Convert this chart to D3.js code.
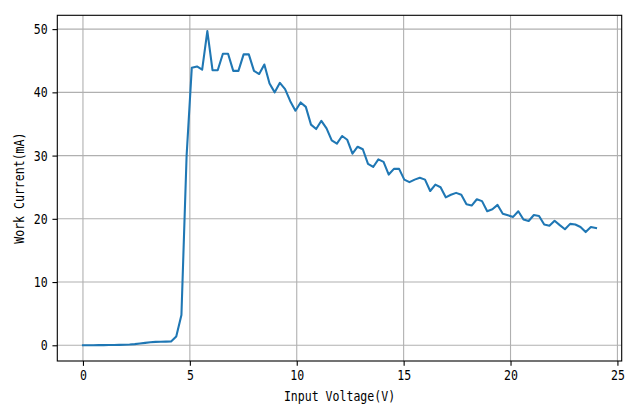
<!DOCTYPE html>
<html>
<head>
<meta charset="utf-8">
<script src="https://cdn.jsdelivr.net/npm/d3@7"></script>
<style>
  html, body { margin: 0; padding: 0; background: #fff; }
  svg { display: block; }
</style>
</head>
<body>
<svg id="chart" width="640" height="409"></svg>
<script>
// ---- data ----
const voltage = [
  0.0000, 0.2424, 0.4848, 0.7273, 0.9697, 1.2121, 1.4545, 1.6970, 1.9394, 2.1818,
  2.4242, 2.6667, 2.9091, 3.1515, 3.3939, 3.6364, 3.8788, 4.1212, 4.3636, 4.6061,
  4.8485, 5.0909, 5.3333, 5.5758, 5.8182, 6.0606, 6.3030, 6.5455, 6.7879, 7.0303,
  7.2727, 7.5152, 7.7576, 8.0000, 8.2424, 8.4848, 8.7273, 8.9697, 9.2121, 9.4545,
  9.6970, 9.9394, 10.1818, 10.4242, 10.6667, 10.9091, 11.1515, 11.3939, 11.6364, 11.8788,
  12.1212, 12.3636, 12.6061, 12.8485, 13.0909, 13.3333, 13.5758, 13.8182, 14.0606, 14.3030,
  14.5455, 14.7879, 15.0303, 15.2727, 15.5152, 15.7576, 16.0000, 16.2424, 16.4848, 16.7273,
  16.9697, 17.2121, 17.4545, 17.6970, 17.9394, 18.1818, 18.4242, 18.6667, 18.9091, 19.1515,
  19.3939, 19.6364, 19.8788, 20.1212, 20.3636, 20.6061, 20.8485, 21.0909, 21.3333, 21.5758,
  21.8182, 22.0606, 22.3030, 22.5455, 22.7879, 23.0303, 23.2727, 23.5152, 23.7576, 24.0000
];
const current = [
  0.00, 0.00, 0.01, 0.02, 0.03, 0.04, 0.05, 0.06, 0.08, 0.12,
  0.18, 0.28, 0.38, 0.48, 0.54, 0.57, 0.58, 0.60, 1.40, 4.80,
  30.0, 43.9, 44.1, 43.6, 49.7, 43.5, 43.5, 46.1, 46.1, 43.4,
  43.4, 46.0, 46.0, 43.4, 42.9, 44.4, 41.4, 40.0, 41.5, 40.5,
  38.6, 37.1, 38.4, 37.7, 34.9, 34.2, 35.5, 34.3, 32.4, 31.9,
  33.1, 32.5, 30.3, 31.4, 31.0, 28.7, 28.2, 29.4, 29.0, 27.0,
  27.9, 27.9, 26.2, 25.8, 26.2, 26.5, 26.2, 24.4, 25.4, 25.0,
  23.4, 23.8, 24.1, 23.8, 22.3, 22.1, 23.1, 22.8, 21.2, 21.5,
  22.2, 20.8, 20.55, 20.3, 21.2, 19.9, 19.65, 20.6, 20.45, 19.1,
  18.9, 19.7, 19.0, 18.35, 19.2, 19.1, 18.7, 17.9, 18.7, 18.55
];
const xTicks = [0, 5, 10, 15, 20, 25];
const yTicks = [0, 10, 20, 30, 40, 50];
const xLabel = "Input Voltage(V)";
const yLabel = "Work Current(mA)";

// ---- layout ----
const svg = d3.select("#chart");
const L = 57.3, R = 621.7, T = 15.3, B = 361;
const FONT = "'DejaVu Sans Mono', 'Liberation Mono', monospace";
const FS = 13.9, CW = 6.95; // font size and per-char advance (SimHei-like half width)

const x = d3.scaleLinear().domain([-1.2, 25.2]).range([L, R]);
const y = d3.scaleLinear().domain([-2.485, 52.185]).range([B, T]);

// grid
const g = svg.append("g");
g.selectAll("line.gx").data(xTicks).join("line")
  .attr("x1", d => x(d)).attr("x2", d => x(d))
  .attr("y1", T).attr("y2", B)
  .attr("stroke", "#b0b0b0").attr("stroke-width", 1.1);
g.selectAll("line.gy").data(yTicks).join("line")
  .attr("class", "gy")
  .attr("x1", L).attr("x2", R)
  .attr("y1", d => y(d)).attr("y2", d => y(d))
  .attr("stroke", "#b0b0b0").attr("stroke-width", 1.1);

// line
const line = d3.line().x((d, i) => x(voltage[i])).y(d => y(d));
svg.append("path").datum(current)
  .attr("d", line)
  .attr("fill", "none")
  .attr("stroke", "#1f77b4")
  .attr("stroke-width", 2.08)
  .attr("stroke-linejoin", "round")
  .attr("stroke-linecap", "square");

// axes
function styleAxis(sel) {
  sel.select(".domain").remove();
  sel.selectAll(".tick line").attr("stroke", "#000").attr("stroke-width", 1.1);
  sel.selectAll(".tick text")
    .attr("fill", "#000")
    .attr("font-family", FONT)
    .attr("font-size", FS)
    .each(function() {
      const t = d3.select(this);
      t.attr("textLength", t.text().length * CW).attr("lengthAdjust", "spacingAndGlyphs");
    });
}
const xAxis = d3.axisBottom(x).tickValues(xTicks).tickSize(4.86).tickPadding(4.5).tickFormat(d3.format("d"));
svg.append("g").attr("transform", `translate(0,${B})`).call(xAxis).call(styleAxis);
const yAxis = d3.axisLeft(y).tickValues(yTicks).tickSize(4.86).tickPadding(4.8).tickFormat(d3.format("d"));
svg.append("g").attr("transform", `translate(${L},0)`).call(yAxis).call(styleAxis);

// frame
svg.append("rect")
  .attr("x", L).attr("y", T).attr("width", R - L).attr("height", B - T)
  .attr("fill", "none").attr("stroke", "#000").attr("stroke-width", 1.1);

// labels
svg.append("text")
  .attr("x", (L + R) / 2).attr("y", 401)
  .attr("text-anchor", "middle")
  .attr("font-family", FONT).attr("font-size", FS)
  .attr("textLength", xLabel.length * CW).attr("lengthAdjust", "spacingAndGlyphs")
  .text(xLabel);
svg.append("text")
  .attr("transform", `translate(24,${(T + B) / 2}) rotate(-90)`)
  .attr("text-anchor", "middle")
  .attr("font-family", FONT).attr("font-size", FS)
  .attr("textLength", yLabel.length * CW).attr("lengthAdjust", "spacingAndGlyphs")
  .text(yLabel);
</script>
</body>
</html>
